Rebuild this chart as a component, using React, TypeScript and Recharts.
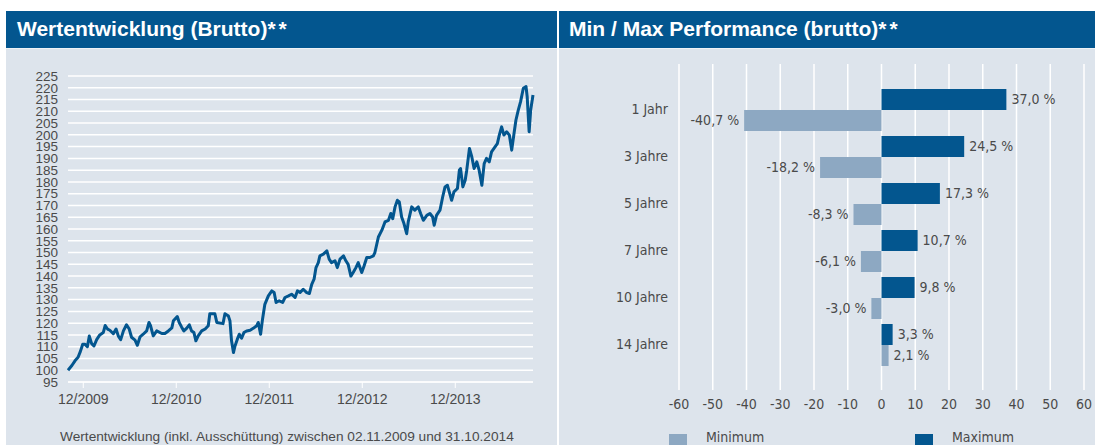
import React from 'react';
import { LineChart, Line, XAxis, YAxis, CartesianGrid, BarChart, Bar, LabelList } from 'recharts';

const NAVY = '#03568f';
const LIGHT = '#8da8c2';
const PANEL = '#dde4ec';
const TEXT = '#4a4a4a';
const SANS = "'Liberation Sans', Arial, sans-serif";
const NARROW = "'Liberation Sans Narrow', 'Arial Narrow', 'DejaVu Sans Condensed', sans-serif";

// Monate seit 02.11.2009
const monthOffsets = [
    0, 0.5, 0.9, 1.3, 1.6, 1.9, 2.2, 2.5, 2.75, 3.05,
    3.35, 3.7, 4.1, 4.55, 4.8, 5.1, 5.4, 5.85, 6.2, 6.5,
    6.8, 7.15, 7.55, 7.9, 8.2, 8.65, 8.95, 9.3, 9.7, 10.15,
    10.45, 10.65, 11.0, 11.45, 12.1, 12.5, 12.95, 13.4, 13.6, 14.1,
    14.35, 14.65, 14.95, 15.3, 15.65, 15.95, 16.25, 16.5, 16.8, 17.25,
    17.7, 18.1, 18.3, 18.95, 19.2, 20.0, 20.25, 20.7, 20.9, 21.1,
    21.35, 21.55, 21.85, 22.1, 22.4, 22.7, 23.05, 23.5, 23.9, 24.35,
    24.55, 24.85, 25.1, 25.4, 25.85, 26.3, 26.6, 26.85, 27.25, 27.7,
    28.0, 28.45, 28.85, 29.3, 29.6, 29.95, 30.35, 30.8, 31.15, 31.45,
    31.75, 32.0, 32.3, 32.5, 32.95, 33.4, 33.7, 34.0, 34.45, 34.75,
    35.1, 35.55, 35.85, 36.15, 36.5, 36.8, 37.15, 37.45, 37.9, 38.2,
    38.55, 38.95, 39.4, 39.6, 40.05, 40.5, 40.9, 41.35, 41.65, 41.9,
    42.2, 42.5, 42.75, 43.05, 43.35, 43.7, 43.9, 44.35, 44.75, 45.2,
    45.5, 45.85, 46.3, 46.7, 47.05, 47.25, 47.55, 48.0, 48.35, 48.65,
    48.95, 49.2, 49.5, 49.8, 50.25, 50.5, 50.65, 50.95, 51.25, 51.45,
    51.8, 52.1, 52.4, 52.75, 53.05, 53.4, 53.7, 54.0, 54.35, 54.65,
    55.1, 55.4, 55.65, 55.95, 56.25, 56.6, 56.95, 57.25, 57.55, 57.8,
    58.1, 58.4, 58.75, 59.1, 59.25, 59.5, 59.7, 60.0
];

const indexValues = [
    100, 102, 104, 105.5, 108, 111, 111, 110, 114.5, 111.3,
    110.3, 113, 115, 116, 119, 117.5, 117, 115.5, 117.5, 114.5,
    113, 116.7, 119.3, 117.5, 114, 112.8, 110.6, 114.2, 115.3, 116.7,
    120.3, 118.9, 114.6, 116.7, 115.6, 115.6, 116.7, 118, 121, 122.8,
    120.3, 118.4, 116.7, 117.8, 119.3, 116.7, 116, 112.5, 114.6, 116.7,
    117.5, 118.9, 124, 124, 120.3, 119.8, 124, 123, 120.9, 112.5,
    107.5, 110.3, 113.2, 115.3, 113.6, 116, 116.7, 117, 117.8, 118.9,
    120.3, 115.3, 121.7, 128, 131.6, 133.7, 133, 128.8, 129.5, 128.8,
    130.9, 131.6, 132.3, 130.9, 133.7, 133, 134.4, 133, 132.6, 136.5,
    138.7, 143.6, 145.7, 148.6, 149.3, 150.7, 147.2, 145.7, 146.5, 143.6,
    147.2, 148.6, 146.5, 145, 140, 141.5, 143.6, 145.7, 141.5, 144.3,
    147.9, 147.9, 148.6, 150, 156.6, 159.5, 163, 163.7, 166.6, 164.4,
    169.4, 172.2, 171.5, 165.1, 162.3, 158, 163, 169.4, 168, 169.4,
    166.6, 163.7, 165.8, 166.6, 165.1, 161.6, 165.8, 168, 173.7, 177.9,
    178.6, 175.8, 172.2, 175.8, 177.2, 185, 185.7, 177.9, 180.7, 185,
    194.2, 190.7, 185.7, 188.5, 185, 178.6, 187.8, 190, 188.5, 192.8,
    194.9, 196.3, 199.9, 203.4, 199.9, 201.3, 199.9, 193.5, 200.6, 206.3,
    210.5, 214.1, 219.8, 220.5, 216.2, 201.3, 210.5, 216.9
];

const yTicks = [95, 100, 105, 110, 115, 120, 125, 130, 135, 140, 145, 150, 155, 160,
    165, 170, 175, 180, 185, 190, 195, 200, 205, 210, 215, 220, 225];
const yearTicks = [1.97, 13.97, 25.97, 37.97, 49.97];
const yearLabels = ['12/2009', '12/2010', '12/2011', '12/2012', '12/2013'];

const periods = ['1 Jahr', '3 Jahre', '5 Jahre', '7 Jahre', '10 Jahre', '14 Jahre'];
const minPerf = [-40.7, -18.2, -8.3, -6.1, -3.0, 2.1];
const maxPerf = [37.0, 24.5, 17.3, 10.7, 9.8, 3.3];
const perfTicks = [-60, -50, -40, -30, -20, -10, 0, 10, 20, 30, 40, 50, 60];

const lineData = monthOffsets.map((m, i) => ({ m, v: indexValues[i] }));
const perfData = periods.map((period, i) => ({ period, min: minPerf[i], max: maxPerf[i] }));

const fmtPct = (v: number) => `${v.toFixed(1).replace('.', ',')} %`;

const PerfLabel = (props: any) => {
    const { x, y, width, height, value } = props;
    const left = Math.min(x, x + width);
    const right = Math.max(x, x + width);
    const neg = value < 0;
    return (
        <text
            x={neg ? left - 5 : right + 5}
            y={y + height / 2}
            dy="0.35em"
            textAnchor={neg ? 'end' : 'start'}
            fill={TEXT}
            fontSize={14}
            fontFamily={NARROW}
        >
            {fmtPct(value)}
        </text>
    );
};

const abs = (left: number, top: number, width: number, height: number): React.CSSProperties => ({
    position: 'absolute', left, top, width, height
});

export default function App() {
    return (
        <div style={{ position: 'absolute', left: 0, top: 0, width: 1098, height: 445, background: '#fff', overflow: 'hidden' }}>
            {/* Kopfzeilen */}
            <div style={{ ...abs(6, 11, 551, 37), background: NAVY }} />
            <div style={{ ...abs(559, 11, 536, 37), background: NAVY }} />
            <div style={{ ...abs(6, 48, 551, 397), background: PANEL, borderTop: '1px solid #eef2f6', boxSizing: 'border-box' }} />
            <div style={{ ...abs(559, 48, 536, 397), background: PANEL, borderTop: '1px solid #eef2f6', boxSizing: 'border-box' }} />
            <div style={{ position: 'absolute', left: 17, top: 17, color: '#fff', fontFamily: SANS, fontWeight: 700, fontSize: 21, lineHeight: '24px', whiteSpace: 'nowrap' }}>
                Wertentwicklung (Brutto)<span style={{ letterSpacing: 3 }}>**</span>
            </div>
            <div style={{ position: 'absolute', left: 569, top: 17, color: '#fff', fontFamily: SANS, fontWeight: 700, fontSize: 21, lineHeight: '24px', whiteSpace: 'nowrap' }}>
                Min / Max Performance (brutto)<span style={{ letterSpacing: 3 }}>**</span>
            </div>

            {/* Wertentwicklung */}
            <div style={abs(0, 0, 557, 445)}>
                <LineChart width={557} height={445} data={lineData} margin={{ top: 76, right: 24, bottom: 33, left: 0 }}>
                    <CartesianGrid vertical={false} stroke="#fff" strokeWidth={1.5} />
                    <XAxis
                        dataKey="m"
                        type="number"
                        domain={[0, 60]}
                        ticks={yearTicks}
                        interval={0}
                        tickFormatter={(v) => yearLabels[yearTicks.indexOf(v)]}
                        stroke="#fff"
                        tickSize={6}
                        tickMargin={6}
                        tick={{ fill: TEXT, fontSize: 14, fontFamily: SANS }}
                        height={30}
                    />
                    <YAxis
                        type="number"
                        domain={[95, 225]}
                        ticks={yTicks}
                        interval={0}
                        width={68}
                        axisLine={false}
                        tickLine={false}
                        tickSize={6}
                        tickMargin={4}
                        tick={{ fill: TEXT, fontSize: 13.5, fontFamily: SANS }}
                    />
                    <Line
                        type="linear"
                        dataKey="v"
                        stroke={NAVY}
                        strokeWidth={3}
                        strokeLinejoin="round"
                        dot={false}
                        isAnimationActive={false}
                    />
                </LineChart>
            </div>
            <div style={{ position: 'absolute', left: 60, top: 428, color: TEXT, fontFamily: SANS, fontSize: 13.7, lineHeight: '18px', whiteSpace: 'nowrap' }}>
                Wertentwicklung (inkl. Ausschüttung) zwischen 02.11.2009 und 31.10.2014
            </div>

            {/* Min / Max */}
            <div style={abs(559, 0, 536, 445)}>
                <BarChart
                    width={536}
                    height={445}
                    data={perfData}
                    layout="vertical"
                    barSize={21}
                    barGap={0}
                    margin={{ top: 64, right: 11, bottom: 25, left: 0 }}
                >
                    <CartesianGrid horizontal={false} stroke="#fff" strokeWidth={1.5} />
                    <XAxis
                        type="number"
                        domain={[-60, 60]}
                        ticks={perfTicks}
                        interval={0}
                        axisLine={false}
                        tickLine={false}
                        tickSize={0}
                        tickMargin={9}
                        tick={{ fill: TEXT, fontSize: 14, fontFamily: NARROW }}
                        height={30}
                    />
                    <YAxis
                        type="category"
                        dataKey="period"
                        width={120}
                        axisLine={false}
                        tickLine={false}
                        tickSize={0}
                        tickMargin={11}
                        padding={{ top: 22, bottom: 22 }}
                        tick={{ fill: TEXT, fontSize: 14, fontFamily: NARROW }}
                    />
                    <Bar dataKey="max" fill={NAVY} isAnimationActive={false}>
                        <LabelList dataKey="max" content={PerfLabel} />
                    </Bar>
                    <Bar dataKey="min" fill={LIGHT} isAnimationActive={false}>
                        <LabelList dataKey="min" content={PerfLabel} />
                    </Bar>
                </BarChart>
            </div>

            {/* Legende */}
            <div style={{ ...abs(669, 434, 18, 18), background: LIGHT }} />
            <div style={{ position: 'absolute', left: 706, top: 429, color: TEXT, fontFamily: NARROW, fontSize: 14, lineHeight: '17px' }}>Minimum</div>
            <div style={{ ...abs(915, 434, 18, 18), background: NAVY }} />
            <div style={{ position: 'absolute', left: 952, top: 429, color: TEXT, fontFamily: NARROW, fontSize: 14, lineHeight: '17px' }}>Maximum</div>
        </div>
    );
}
